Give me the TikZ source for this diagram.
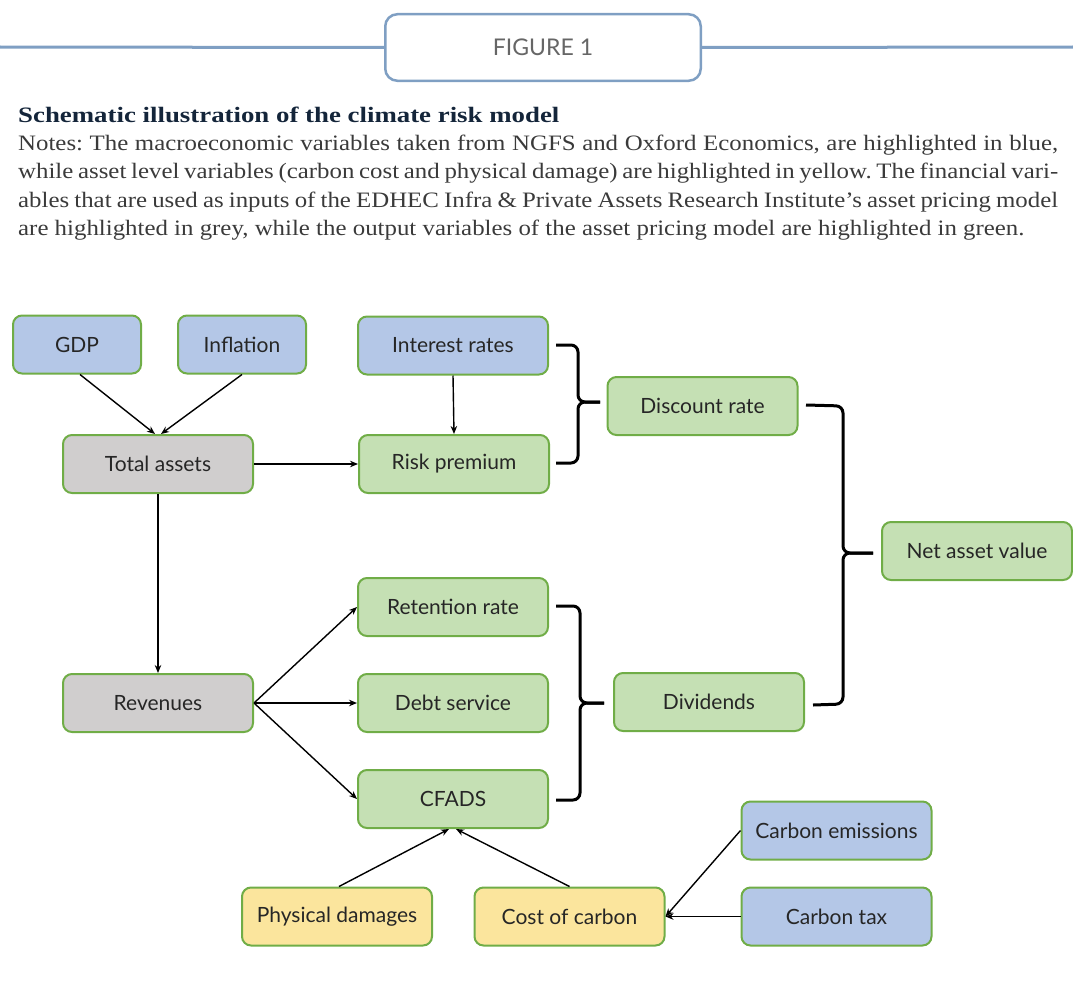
\documentclass[tikz,border=0pt]{standalone}
\usepackage{fontspec}
\setmainfont{Liberation Serif}
\newfontfamily\notefont[FakeStretch=1.13,Ligatures=TeX]{Liberation Serif}
\newfontfamily\titlefont[FakeStretch=1.22,Ligatures=TeX]{Liberation Serif}
\newfontfamily\nodefont{Lato}
\usetikzlibrary{arrows.meta,calc}
\frenchspacing
\definecolor{bluefill}{HTML}{B4C7E7}
\definecolor{greenfill}{HTML}{C5E0B4}
\definecolor{greyfill}{HTML}{D0CECE}
\definecolor{yellowfill}{HTML}{FBE59D}
\definecolor{boxborder}{HTML}{70AD47}
\definecolor{headblue}{HTML}{7F9FC3}
\definecolor{titlenavy}{HTML}{14253A}
\definecolor{notegray}{HTML}{3A3A3A}
\definecolor{figgray}{HTML}{666666}
\begin{document}
\begin{tikzpicture}[x=1pt,y=-1pt,
  var/.style={draw=boxborder, line width=2pt, rounded corners=9pt,
    minimum width=190pt, minimum height=58pt, inner sep=0pt,
    font=\nodefont\fontsize{21}{25}\selectfont, text=black!85},
  bluev/.style={var, fill=bluefill},
  greenv/.style={var, fill=greenfill},
  greyv/.style={var, fill=greyfill},
  yellowv/.style={var, fill=yellowfill},
  arr/.style={line width=1.4pt, -{Stealth[length=8pt,width=6.5pt]}},
  bracel/.style={line width=3pt, rounded corners=7pt},
  hdrline/.style={draw=headblue, line width=3pt}
]
\useasboundingbox (0,0) rectangle (1073,998);

% header
\node (hdr) [draw=headblue, line width=2.5pt, rounded corners=12pt, fill=white,
  minimum width=315.5pt, minimum height=66.5pt, inner sep=0pt,
  font=\nodefont\fontsize{23}{26}\selectfont, text=figgray] at (543,47.5) {FIGURE 1};
\coordinate (hl) at (0,47);
\coordinate (hr) at (1073,47);
\draw[hdrline] (hl) -- (hdr.west);
\draw[hdrline] (hdr.east) -- (hr);

% caption
\node (title) [anchor=base west, inner sep=0pt, text=titlenavy,
  font=\titlefont\bfseries\fontsize{22}{26}\selectfont] at (18,122)
  {Schematic illustration of the climate risk model};
\node (notes) [anchor=base west, inner sep=0pt, text=notegray,
  font=\notefont\fontsize{22}{28.5}\selectfont] at (18,150)
  {\begin{minipage}[t]{1040pt}\notefont\fontsize{22}{28.5}\selectfont\frenchspacing
   \makebox[1040pt][s]{Notes: The macroeconomic variables taken from NGFS and Oxford Economics, are highlighted in blue,}\\
   \makebox[1040pt][s]{while asset level variables (carbon cost and physical damage) are highlighted in yellow. The financial vari-}\\
   \makebox[1040pt][s]{ables that are used as inputs of the EDHEC Infra \& Private Assets Research Institute’s asset pricing model}\\
   are highlighted in grey, while the output variables of the asset pricing model are highlighted in green.
   \end{minipage}};

% nodes
\node (gdp) [bluev, minimum width=128pt] at (77,344.5) {GDP};
\node (inf) [bluev, minimum width=128pt] at (242,344.5) {Inflation};
\node (ir)  [bluev] at (453,345.5) {Interest rates};
\node (dr)  [greenv] at (702.5,406) {Discount rate};
\node (ta)  [greyv] at (158,464) {Total assets};
\node (rp)  [greenv] at (454,464) {Risk premium};
\node (nav) [greenv] at (977,551) {Net asset value};
\node (ret) [greenv] at (453,607) {Retention rate};
\node (rev) [greyv] at (158,703) {Revenues};
\node (debt) [greenv] at (453,703) {Debt service};
\node (div) [greenv] at (709,702) {Dividends};
\node (cf)  [greenv] at (453,799) {CFADS};
\node (ce)  [bluev] at (836.5,830.5) {Carbon emissions};
\node (pd)  [yellowv] at (337,916.5) {Physical damages};
\node (coc) [yellowv] at (569.5,916.5) {Cost of carbon};
\node (ct)  [bluev] at (836.5,916.5) {Carbon tax};

% arrows
\draw[arr] ([xshift=3pt]gdp.south) -- ([xshift=-3pt]ta.north);
\draw[arr] (inf.south) -- ([xshift=3pt]ta.north);
\draw[arr] (ir.south) -- (rp.north);
\draw[arr] (ta.east) -- (rp.west);
\draw[arr] (ta.south) -- (rev.north);
\draw[arr] (rev.east) -- (ret.west);
\draw[arr] (rev.east) -- (debt.west);
\draw[arr] (rev.east) -- (cf.west);
\draw[arr] ([xshift=2pt]pd.north) -- ([xshift=-4pt]cf.south);
\draw[arr] (coc.north) -- ([xshift=3pt]cf.south);
\draw[arr] (ce.west) -- (coc.east);
\draw[arr] (ct.west) -- (coc.east);

% braces
\draw[bracel] (556,345) -- (578,345) -- (578,402) -- (600,402);
\draw[bracel] (556,463) -- (578,463) -- (578,402) -- (600,402);
\draw[bracel] (806,405) -- (843,406) -- (843,553) -- (873,553);
\draw[bracel] (813,705) -- (843,704) -- (843,553) -- (873,553);
\draw[bracel] (556,606) -- (580,606) -- (580,703) -- (604,703);
\draw[bracel] (556,800) -- (580,800) -- (580,703) -- (604,703);
\end{tikzpicture}
\end{document}
